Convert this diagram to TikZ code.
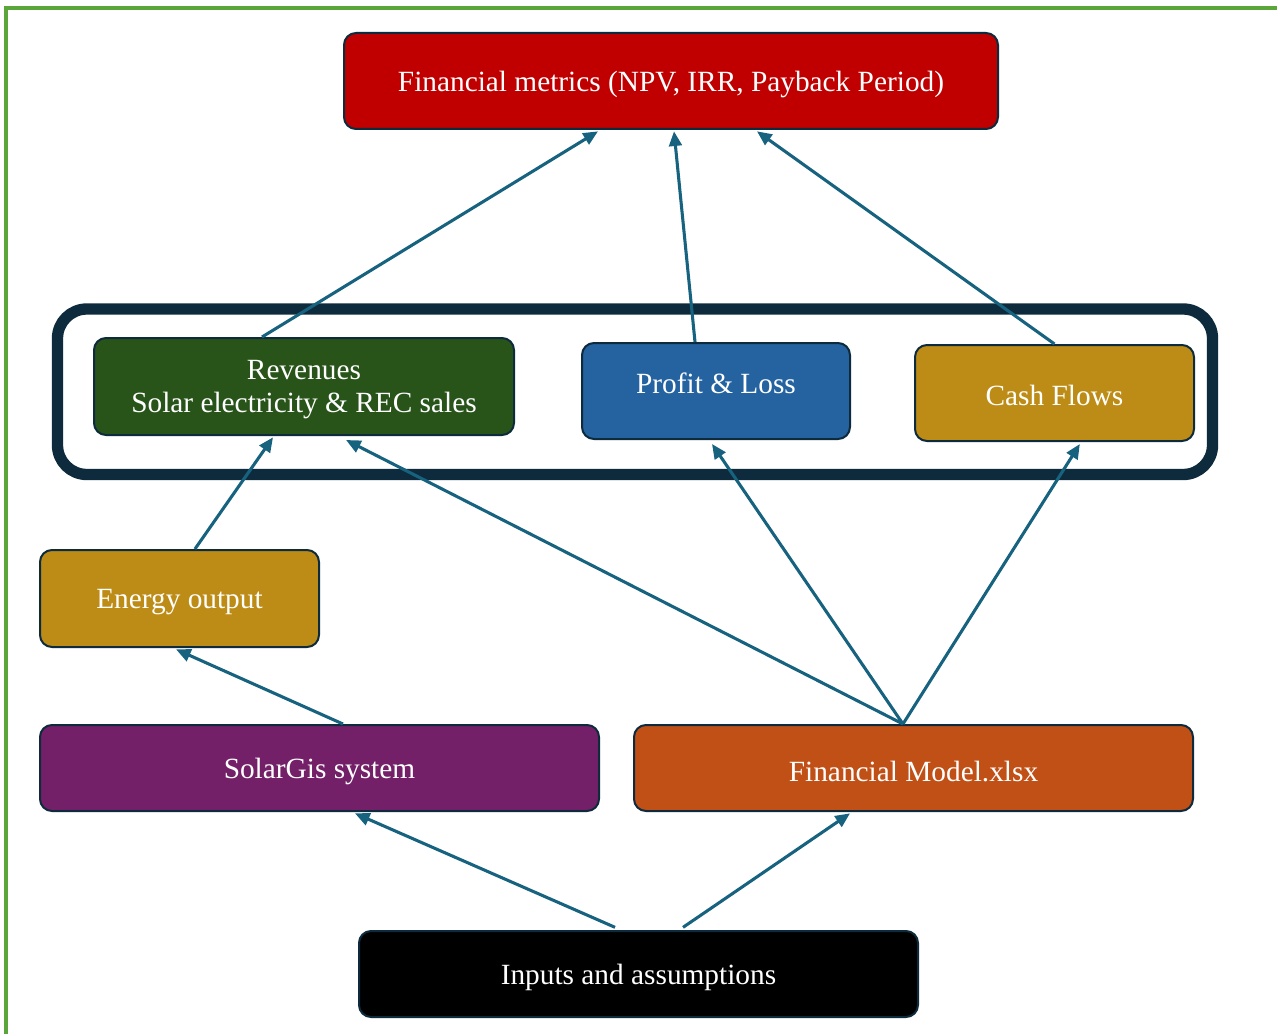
\documentclass[tikz,border=0pt]{standalone}
\usepackage{fontspec}
\setmainfont{Liberation Serif}
\usetikzlibrary{arrows.meta}
\definecolor{cRed}{HTML}{C00000}
\definecolor{cGreen}{HTML}{285419}
\definecolor{cBlue}{HTML}{2462A0}
\definecolor{cGold}{HTML}{BD8C16}
\definecolor{cPurple}{HTML}{742068}
\definecolor{cOrange}{HTML}{C05016}
\definecolor{cEdge}{HTML}{0E2B3D}
\definecolor{cArrow}{HTML}{16627F}
\definecolor{cFrame}{HTML}{5BA63A}
\tikzset{
  box/.style={draw=cEdge, line width=1.5pt, rounded corners=9pt, text=white,
    align=center, font=\fontsize{22}{25}\selectfont, inner sep=0pt},
  conn/.style={draw=cArrow, line width=2.3pt, -{Triangle[length=11pt,width=9.5pt]}},
}
\begin{document}
\begin{tikzpicture}[x=0.75pt,y=-0.75pt]
\useasboundingbox (0,0) rectangle (1277,1034);
\draw[cFrame, line width=2.6pt] (6,1034) -- (6,8) -- (1277,8);
% container
\draw[cEdge, line width=8.5pt, rounded corners=22pt] (57.5,309) rectangle (1212.5,474.5);
% nodes
\node[box, fill=cRed, minimum width=490.5pt, minimum height=72pt] (fin) at (671,81) {\raisebox{-2.5pt}[\height][\depth]{Financial metrics (NPV, IRR, Payback Period)}};
\node[box, fill=cGreen, minimum width=315pt, minimum height=72.75pt] (rev) at (304,386.5) {\raisebox{-2.5pt}[\height][\depth]{Revenues}\\\raisebox{-2.5pt}[\height][\depth]{Solar electricity \& REC sales}};
\node[box, fill=cBlue, minimum width=201pt, minimum height=72pt] (pl) at (716,391) {\raisebox{5.5pt}[\height][\depth]{Profit \& Loss}};
\node[box, fill=cGold, minimum width=209.25pt, minimum height=72pt] (cf) at (1054.5,393) {\raisebox{-2pt}[\height][\depth]{Cash Flows}};
\node[box, fill=cGold, minimum width=209.25pt, minimum height=72.75pt] (en) at (179.5,598.5) {\raisebox{-2.5pt}[\height][\depth]{Energy output}};
\node[box, fill=cPurple, minimum width=419.25pt, minimum height=64.5pt] (sg) at (319.5,768) {\raisebox{-2.5pt}[\height][\depth]{SolarGis system}};
\node[box, fill=cOrange, minimum width=419.25pt, minimum height=64.5pt] (fm) at (913.5,768) {\raisebox{-2.5pt}[\height][\depth]{Financial Model.xlsx}};
\node[box, fill=black, minimum width=419.25pt, minimum height=64.5pt] (in) at (638.5,974) {\raisebox{-2.5pt}[\height][\depth]{Inputs and assumptions}};
% connectors
\draw[conn] ([xshift=-31.5pt]rev.north) -- ([xshift=-54.75pt,yshift=-1pt]fin.south);
\draw[conn] ([xshift=-15.75pt]pl.north) -- ([xshift=2.25pt,yshift=-1pt]fin.south);
\draw[conn] (cf.north) -- ([xshift=64.5pt,yshift=-1pt]fin.south);
\draw[conn] ([xshift=11.6pt]en.north) -- ([xshift=-23.25pt,yshift=-1pt]rev.south);
\draw[conn] ([xshift=-7.9pt]fm.north) -- ([xshift=31.5pt,yshift=-3pt]rev.south);
\draw[conn] ([xshift=-7.9pt]fm.north) -- ([xshift=-3pt,yshift=-3pt]pl.south);
\draw[conn] ([xshift=-7.9pt]fm.north) -- ([xshift=19pt,yshift=-1.5pt]cf.south);
\draw[conn] ([xshift=17.6pt]sg.north) -- ([xshift=-2.6pt,yshift=-1pt]en.south);
\draw[conn] ([xshift=-17.6pt,yshift=2pt]in.north) -- ([xshift=26.6pt,yshift=-1pt]sg.south);
\draw[conn] ([xshift=33.4pt,yshift=2pt]in.north) -- ([xshift=-47.6pt,yshift=-1pt]fm.south);
\end{tikzpicture}
\end{document}
